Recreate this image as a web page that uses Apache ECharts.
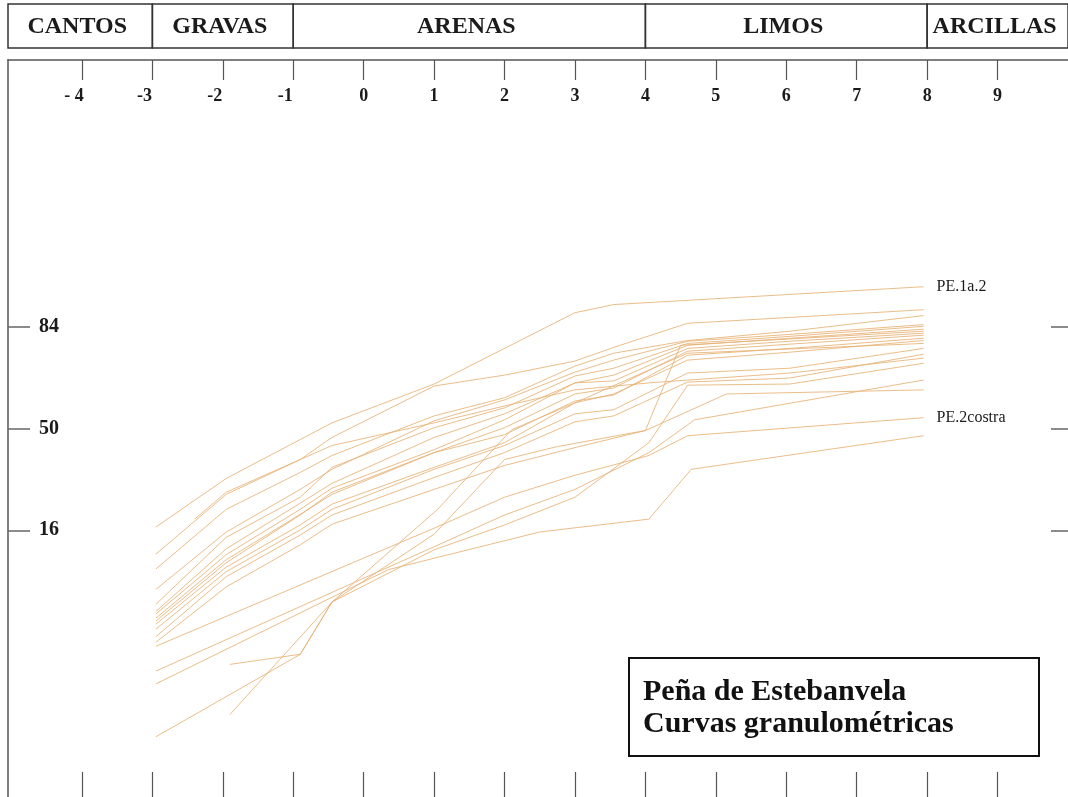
<!DOCTYPE html>
<html lang="es">
<head>
<meta charset="utf-8">
<title>Peña de Estebanvela – Curvas granulométricas</title>
<script src="https://cdn.jsdelivr.net/npm/echarts@6/dist/echarts.min.js"></script>
<style>
  html, body { margin: 0; padding: 0; background: #fff; }
  #chart { width: 1068px; height: 797px; }
</style>
</head>
<body>
<div id="chart"></div>
<script>
// ---- Scale (phi units) and probability axis ----
const phiMin = -5.05;
const phiMax = 10;
const phiTicks = [-4, -3, -2, -1, 0, 1, 2, 3, 4, 5, 6, 7, 8, 9];
const phiTickLabels = ['- 4', '-3', '-2', '-1', '0', '1', '2', '3', '4', '5', '6', '7', '8', '9'];
const pctTicks = [16, 50, 84];

// ---- Grain-size classes (header band) ----
const classNames = ['CANTOS', 'GRAVAS', 'ARENAS', 'LIMOS', 'ARCILLAS'];
const classLimits = [-3, -1, 4, 8];

// ---- Cumulative curves: [phi, cumulative %] ----
const PE_1a_2 = [[-2.95, 16.8], [-1.95, 31.3], [-0.45, 52.2], [1.0, 66.8], [3.0, 87.1], [3.55, 88.7], [7.95, 91.7]];
const m02 = [[-2.95, 11.0], [-1.95, 26.0], [-0.9, 38.1], [-0.45, 46.5], [1.0, 66.1], [2.0, 69.9], [3.0, 74.5], [3.55, 78.6], [4.6, 84.8], [7.95, 87.7]];
const m03 = [[-2.95, 8.5], [-1.95, 21.5], [-0.9, 33.4], [-0.45, 39.6], [1.0, 54.9], [2.0, 61.8], [3.0, 72.9], [3.55, 76.9], [4.6, 80.5], [6.05, 82.9], [7.95, 86.5]];
const m04 = [[-2.95, 5.8], [-1.95, 15.6], [-0.9, 27.6], [-0.45, 34.5], [1.0, 53.0], [2.0, 61.0], [3.0, 70.9], [3.55, 74.8], [4.6, 80.3], [6.05, 82.1], [7.95, 84.5]];
const m05 = [[-2.95, 4.3], [-1.95, 14.4], [-0.9, 25.1], [-0.45, 35.2], [1.0, 50.3], [2.0, 58.0], [3.0, 69.6], [3.55, 72.2], [4.6, 79.7], [6.05, 81.6], [7.95, 84.1]];
const m06 = [[-2.95, 3.7], [-1.95, 12.0], [-0.9, 23.3], [-0.45, 29.6], [1.0, 46.5], [2.0, 55.7], [3.0, 67.2], [3.55, 69.9], [4.6, 79.2], [6.05, 81.1], [7.95, 83.4]];
const m07 = [[-2.95, 3.5], [-1.95, 10.9], [-0.9, 21.5], [-0.45, 28.0], [1.0, 41.8], [2.0, 53.4], [3.0, 67.2], [3.55, 67.9], [4.6, 78.3], [6.05, 80.3], [7.95, 82.4]];
const m08 = [[-2.95, 3.2], [-1.95, 10.0], [-0.9, 20.1], [-0.45, 26.0], [1.0, 40.7], [2.0, 50.3], [3.0, 63.2], [3.55, 65.4], [4.6, 77.5], [6.05, 79.5], [7.95, 81.9]];
const m09 = [[-2.95, 3.0], [-1.95, 9.5], [-0.9, 19.9], [-0.45, 26.7], [1.0, 40.7], [2.0, 47.6], [3.0, 60.6], [3.55, 62.8], [4.6, 76.3], [6.05, 78.3], [7.95, 81.1]];
const m10 = [[-2.95, 2.8], [-1.95, 8.8], [-0.9, 17.3], [-0.45, 23.0], [1.0, 35.2], [2.0, 44.5], [3.0, 59.9], [3.55, 63.2], [4.6, 74.8], [6.05, 77.2], [7.95, 80.5]];
const m11 = [[-2.95, 2.5], [-1.95, 8.1], [-0.9, 16.1], [-0.45, 21.5], [1.0, 34.5], [2.0, 43.4], [3.0, 55.7], [3.55, 57.3], [4.6, 70.6], [6.05, 72.2], [7.95, 78.3]];
const m12 = [[-2.95, 2.1], [-1.95, 7.4], [-0.9, 14.9], [-0.45, 19.9], [1.0, 31.6], [2.0, 40.7], [3.0, 52.6], [3.55, 54.9], [4.6, 67.5], [6.05, 68.9], [7.95, 76.6]];
const m13 = [[-2.95, 1.84], [-1.95, 6.1], [-0.9, 12.8], [-0.45, 17.5], [1.0, 27.6], [2.0, 35.9], [3.0, 42.6], [4.0, 49.2], [4.5, 79.2], [7.95, 82.9]];
const m14 = [[-2.4, 18.8], [-1.95, 26.7], [-0.9, 38.1], [-0.45, 43.4], [1.0, 52.2], [2.0, 58.7], [3.0, 64.7], [4.05, 67.2], [4.6, 68.2], [6.05, 70.6], [7.95, 75.4]];
const PE_2costra = [[-2.95, 1.67], [1.0, 16.5], [2.0, 25.1], [3.0, 32.4], [4.05, 39.6], [4.6, 47.2], [7.95, 54.2]];
const m16 = [[-2.95, 0.89], [1.0, 12.4], [2.0, 19.9], [3.0, 27.6], [4.05, 40.7], [4.7, 53.4], [7.95, 68.2]];
const m17 = [[-2.95, 0.63], [0.35, 8.4], [2.5, 15.6], [4.05, 18.8], [4.65, 34.5], [7.95, 47.2]];
const m18 = [[-2.95, 0.13], [-0.9, 1.37], [-0.45, 4.5], [1.0, 15.1], [2.0, 38.1], [2.75, 43.0], [4.0, 49.2], [5.15, 63.2], [7.95, 64.7]];
const m19 = [[-1.9, 1.06], [-0.9, 1.37], [-0.45, 4.5], [1.0, 11.8], [2.0, 17.3], [3.0, 25.1], [4.05, 44.5], [4.6, 66.4], [6.05, 66.8], [7.95, 73.8]];
const m20 = [[-1.9, 0.26], [-0.45, 4.5], [1.05, 21.5], [2.1, 49.5], [3.0, 59.9], [4.05, 71.6], [4.6, 76.9], [7.95, 79.7]];

const curves = [
  { name: 'PE.1a.2', data: PE_1a_2, label: true },
  { name: 'm02', data: m02 }, { name: 'm03', data: m03 }, { name: 'm04', data: m04 },
  { name: 'm05', data: m05 }, { name: 'm06', data: m06 }, { name: 'm07', data: m07 },
  { name: 'm08', data: m08 }, { name: 'm09', data: m09 }, { name: 'm10', data: m10 },
  { name: 'm11', data: m11 }, { name: 'm12', data: m12 }, { name: 'm13', data: m13 },
  { name: 'm14', data: m14 },
  { name: 'PE.2costra', data: PE_2costra, label: true },
  { name: 'm16', data: m16 }, { name: 'm17', data: m17 }, { name: 'm18', data: m18 },
  { name: 'm19', data: m19 }, { name: 'm20', data: m20 }
];

// Inverse of the standard normal CDF (Acklam), used for the probability ordinate
function probit(p) {
  const a = [-3.969683028665376e+01, 2.209460984245205e+02, -2.759285104469687e+02, 1.383577518672690e+02, -3.066479806614716e+01, 2.506628277459239e+00];
  const b = [-5.447609879822406e+01, 1.615858368580409e+02, -1.556989798598866e+02, 6.680131188771972e+01, -1.328068155288572e+01];
  const c = [-7.784894002430293e-03, -3.223964580411365e-01, -2.400758277161838e+00, -2.549732539343734e+00, 4.374664141464968e+00, 2.938163982698783e+00];
  const d = [7.784695709041462e-03, 3.224671290700398e-01, 2.445134137142996e+00, 3.754408661907416e+00];
  const pl = 0.02425, ph = 1 - pl;
  let q, r;
  if (p < pl) {
    q = Math.sqrt(-2 * Math.log(p));
    return (((((c[0] * q + c[1]) * q + c[2]) * q + c[3]) * q + c[4]) * q + c[5]) /
           ((((d[0] * q + d[1]) * q + d[2]) * q + d[3]) * q + 1);
  }
  if (p > ph) {
    q = Math.sqrt(-2 * Math.log(1 - p));
    return -(((((c[0] * q + c[1]) * q + c[2]) * q + c[3]) * q + c[4]) * q + c[5]) /
            ((((d[0] * q + d[1]) * q + d[2]) * q + d[3]) * q + 1);
  }
  q = p - 0.5; r = q * q;
  return (((((a[0] * r + a[1]) * r + a[2]) * r + a[3]) * r + a[4]) * r + a[5]) * q /
         (((((b[0] * r + b[1]) * r + b[2]) * r + b[3]) * r + b[4]) * r + 1);
}

const zMin = -3.6, zMax = 3.6;
const pctTickZ = pctTicks.map(p => probit(p / 100));

const SERIF = '"Liberation Serif", "DejaVu Serif", serif';
const INK = '#1b1b1b';
const CURVE = '#e6b274';

// Header cells from the class limits
const bounds = [phiMin, ...classLimits, phiMax];
const headerData = classNames.map((n, i) => [bounds[i], bounds[i + 1]]);

const headerSeries = {
  type: 'custom',
  xAxisIndex: 0,
  yAxisIndex: 0,
  silent: true,
  clip: false,
  data: headerData,
  renderItem: (params, api) => {
    const cs = params.coordSys;
    const x0 = api.coord([api.value(0), 0])[0];
    const x1 = api.coord([api.value(1), 0])[0];
    return {
      type: 'group',
      children: [
        { type: 'rect', shape: { x: x0, y: cs.y, width: x1 - x0, height: cs.height },
          style: { fill: 'transparent', stroke: '#333', lineWidth: 1.5 } },
        { type: 'text',
          style: { text: classNames[params.dataIndex], x: (x0 + x1) / 2 - 3, y: cs.y + cs.height / 2 + 1,
                   align: 'center', verticalAlign: 'middle',
                   fontFamily: SERIF, fontWeight: 'bold', fontSize: 24, fill: INK } }
      ]
    };
  }
};

const curveSeries = curves.map(cv => ({
  name: cv.name,
  type: 'line',
  xAxisIndex: 1,
  yAxisIndex: 1,
  silent: true,
  symbol: 'none',
  z: 2,
  lineStyle: { color: CURVE, width: 1, opacity: 0.85 },
  data: cv.data.map(([phi, pct]) => [phi, probit(pct / 100)]),
  endLabel: cv.label ? {
    show: true, formatter: '{a}', distance: 13,
    fontFamily: SERIF, fontSize: 16, color: INK
  } : { show: false }
}));

const chart = echarts.init(document.getElementById('chart'), null, { renderer: 'canvas' });

chart.setOption({
  animation: false,
  backgroundColor: '#ffffff',
  grid: [
    { left: 8, top: 4, width: 1064, height: 44 },
    { left: 8, top: 60, width: 1064, height: 741.6 }
  ],
  xAxis: [
    { gridIndex: 0, type: 'value', min: phiMin, max: phiMax, show: false },
    {
      gridIndex: 1, type: 'value', position: 'top', min: phiMin, max: phiMax,
      axisLine: { show: true, onZero: false, lineStyle: { color: '#555', width: 1.5 } },
      axisTick: { show: true, inside: true, length: 20, customValues: phiTicks, lineStyle: { color: '#555', width: 1.2 } },
      axisLabel: {
        show: true, inside: true, margin: 27, customValues: phiTicks,
        fontFamily: SERIF, fontWeight: 'bold', fontSize: 18, color: INK,
        formatter: v => {
          const t = phiTickLabels[phiTicks.indexOf(v)];
          return v < 0 ? '{n|' + t + '}' : t;
        },
        rich: { n: { fontFamily: SERIF, fontWeight: 'bold', fontSize: 18, color: INK, padding: [0, 16, 0, 0] } }
      },
      splitLine: { show: false }
    },
    {
      gridIndex: 1, type: 'value', position: 'bottom', min: phiMin, max: phiMax,
      axisLine: { show: false, onZero: false },
      axisTick: { show: true, inside: true, length: 25, customValues: phiTicks, lineStyle: { color: '#555', width: 1.2 } },
      axisLabel: { show: false },
      splitLine: { show: false }
    }
  ],
  yAxis: [
    { gridIndex: 0, type: 'value', min: 0, max: 1, show: false },
    {
      gridIndex: 1, type: 'value', position: 'left', min: zMin, max: zMax,
      axisLine: { show: true, onZero: false, lineStyle: { color: '#808080', width: 2 } },
      axisTick: { show: true, inside: true, length: 22, customValues: pctTickZ, lineStyle: { color: '#666', width: 1.5 } },
      axisLabel: {
        show: true, inside: true, margin: 31, customValues: pctTickZ,
        fontFamily: SERIF, fontWeight: 'bold', fontSize: 20, color: INK,
        formatter: v => {
          const i = pctTickZ.findIndex(z => Math.abs(z - v) < 1e-9);
          return i >= 0 ? String(pctTicks[i]) : '';
        }
      },
      splitLine: { show: false }
    },
    {
      gridIndex: 1, type: 'value', position: 'right', min: zMin, max: zMax,
      axisLine: { show: false, onZero: false },
      axisTick: { show: true, inside: true, length: 17, customValues: pctTickZ, lineStyle: { color: '#666', width: 1.5 } },
      axisLabel: { show: false },
      splitLine: { show: false }
    }
  ],
  graphic: [
    {
      type: 'group', left: 628, top: 657, z: 10,
      children: [
        { type: 'rect', shape: { x: 0, y: 0, width: 410, height: 98 },
          style: { fill: '#fff', stroke: '#111', lineWidth: 2 } },
        { type: 'text', x: 14, y: 18,
          style: { text: 'Peña de Estebanvela\nCurvas granulométricas',
                   fontFamily: SERIF, fontWeight: 'bold', fontSize: 30, lineHeight: 32, fill: '#111' } }
      ]
    }
  ],
  series: [headerSeries, ...curveSeries]
});
</script>
</body>
</html>
